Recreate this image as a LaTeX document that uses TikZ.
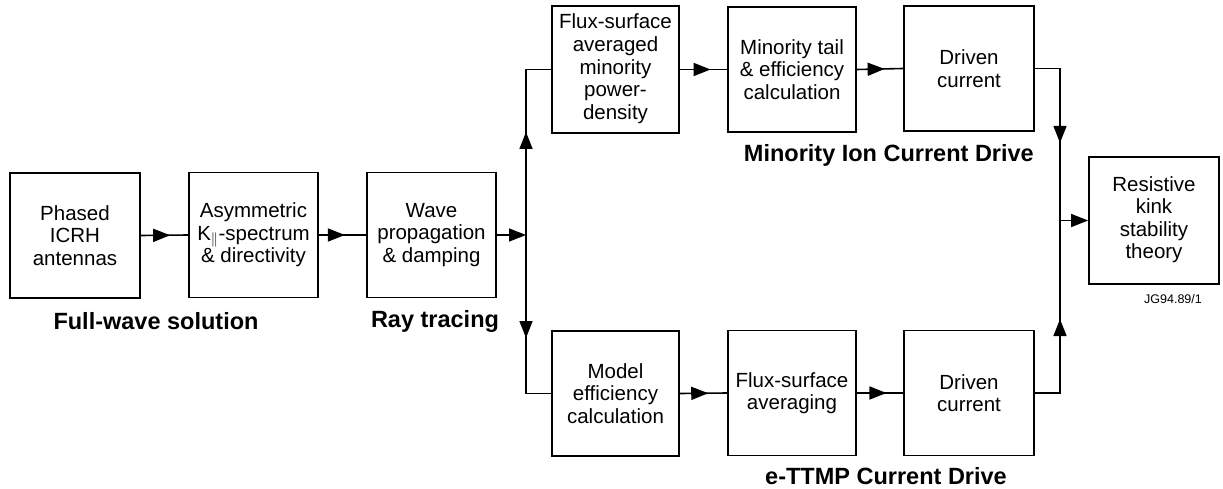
\documentclass[tikz,border=0pt]{standalone}
\usepackage{fontspec}
\setmainfont{Liberation Sans}
\usetikzlibrary{arrows.meta,decorations.markings}
\newcommand{\lowered}[2]{\raisebox{-#1}{\begin{tabular}{@{}c@{}}#2\end{tabular}}}
\begin{document}
\begin{tikzpicture}[x=1pt,y=-1pt,
  box/.style={draw, line width=1.8pt, align=center, inner sep=0pt,
    minimum width=129pt, minimum height=125pt,
    font=\fontsize{20.5}{22.6}\selectfont},
  lbl/.style={font=\fontsize{23.5}{26}\selectfont\bfseries, inner sep=0pt},
  conn/.style={line width=1.6pt},
  tip/.style={-{Triangle[length=17pt,width=13pt]}},
  midarr/.style={conn, postaction={decorate}, decoration={markings,
    mark=at position #1 with {\arrow{Triangle[length=17pt,width=13pt]}}}}
]
\useasboundingbox (0,0) rectangle (1223,489);
% main row
\node[box, minimum width=130pt] (b1) at (75,235.5) {Phased\\ICRH\\antennas};
\node[box] (b2) at (253.5,235) {Asymmetric\\K$_{\scriptstyle\|}$-spectrum\\\& directivity};
\node[box] (b3) at (431.5,235) {Wave\\propagation\\\& damping};
% top branch
\node[box, minimum width=127pt, minimum height=127pt] (b4) at (615.5,69.5) {\lowered{4pt}{\rule{0pt}{15pt}Flux-surface\\averaged\\minority\\power-\\density}};
\node[box, minimum width=128pt] (b5) at (792,69.5) {Minority tail\\\& efficiency\\calculation};
\node[box, minimum width=130pt] (b6) at (969,68.5) {Driven\\current};
% bottom branch
\node[box, minimum width=127pt] (b7) at (615.5,393.5) {Model\\efficiency\\calculation};
\node[box, minimum width=128pt] (b8) at (792,393) {Flux-surface\\averaging};
\node[box, minimum width=130pt] (b10) at (969,393) {Driven\\current};
% final
\node[box, minimum width=130pt, minimum height=127pt] (b9) at (1154,220.5) {\lowered{3pt}{\rule{0pt}{15pt}Resistive\\kink\\stability\\theory}};

\coordinate (split) at (526,235);
\coordinate (merge) at (1060,220.5);

\draw[midarr=0.62] (b1.east) -- (b2.west);
\draw[midarr=0.55] (b2.east) -- (b3.west);
\draw[conn, tip] (b3.east) -- (split);
\draw[midarr=103pt] (split) |- (b4.west);
\draw[midarr=103pt] (split) |- (b7.west);
\draw[midarr=0.65] (b4.east) -- (b5.west);
\draw[midarr=0.6] (b5.east) -- (b6.west);
\draw[midarr=0.6] (b7.east) -- (b8.west);
\draw[midarr=0.64] (b8.east) -- (b10.west);
\draw[midarr=99.5pt] (b6.east) -| (merge);
\draw[midarr=99pt] (b10.east) -| (merge);
\draw[conn, tip] (merge) -- (b9.west);

% labels
\node[lbl] (l1) at (156,321) {Full-wave solution};
\node[lbl] (l2) at (435,321) {Ray tracing};
\node[lbl, anchor=east] (l3) at (1034,155) {Minority Ion Current Drive};
\node[lbl, anchor=east] (l4) at (1007,476) {e-TTMP Current Drive};
\node[font=\fontsize{12.5}{14}\selectfont, inner sep=0pt] (jg) at (1173,299) {JG94.89/1};
\end{tikzpicture}
\end{document}
